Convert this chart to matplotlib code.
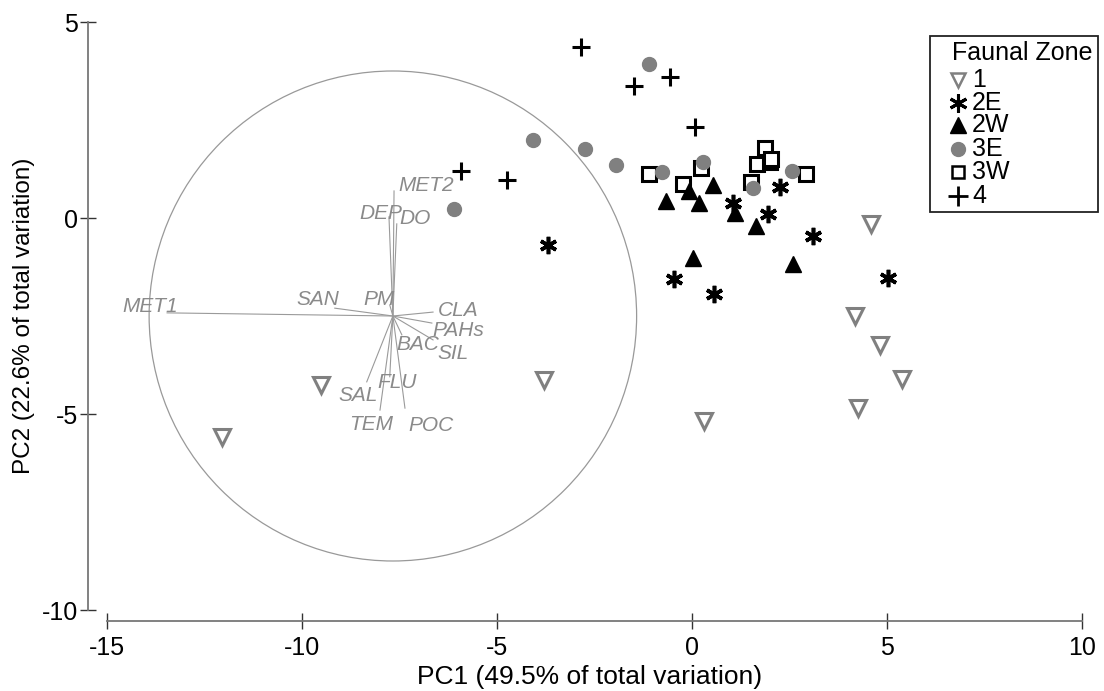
import matplotlib
matplotlib.use("Agg")
import matplotlib.pyplot as plt
import matplotlib.transforms as mtransforms
from matplotlib.patches import Circle, Rectangle
from matplotlib.lines import Line2D

plt.rcParams['font.family'] = ['Liberation Sans', 'DejaVu Sans']
plt.rcParams['axes.unicode_minus'] = False

# PCA scores per faunal zone
zone_1_x = [-12.05, -9.51, -3.79, 0.31, 4.59, 4.18, 4.82, 5.38, 4.26]
zone_1_y = [-5.59, -4.26, -4.13, -5.18, -0.15, -2.50, -3.24, -4.11, -4.85]

zone_2e_x = [-3.69, -0.46, 0.56, 1.05, 2.26, 1.95, 3.10, 5.03]
zone_2e_y = [-0.69, -1.55, -1.93, 0.38, 0.79, 0.10, -0.46, -1.53]

zone_2w_x = [-0.67, -0.08, 0.18, 0.54, 1.10, 1.64, 0.03, 2.59]
zone_2w_y = [0.43, 0.69, 0.38, 0.84, 0.13, -0.20, -1.02, -1.17]

zone_3e_x = [-1.10, -4.08, -2.74, -1.95, -0.77, 0.28, 1.56, 2.56, -6.10]
zone_3e_y = [3.93, 1.99, 1.76, 1.35, 1.17, 1.43, 0.77, 1.20, 0.23]

zone_3w_x = [-1.10, -0.23, 0.23, 1.87, 1.67, 2.00, 2.03, 1.51, 2.92]
zone_3w_y = [1.12, 0.87, 1.27, 1.79, 1.38, 1.43, 1.50, 0.92, 1.12]

zone_4_x = [-2.85, -1.49, -0.56, 0.08, -5.92, -4.74]
zone_4_y = [4.36, 3.37, 3.60, 2.32, 1.20, 0.97]

# environmental vectors (biplot), origin and loadings
vec_origin = (-7.67, -2.50)
vec_names = ['MET1', 'MET2', 'DEP', 'DO', 'SAN', 'PM', 'CLA', 'PAHs',
             'SIL', 'BAC', 'FLU', 'SAL', 'TEM', 'POC']
vec_dx = [-5.79, 0.03, -0.10, 0.10, -1.49, -0.08, 1.03, 1.00,
          1.03, 0.23, -0.08, -0.67, -0.33, 0.31]
vec_dy = [0.08, 3.19, 2.53, 2.35, 0.20, 0.28, 0.10, -0.18,
          -0.61, -0.48, -1.55, -1.68, -2.40, -2.35]
circle_radius = 6.25

# label placement relative to vector tips (pixels)
label_pos = {
    'MET1': (11, 6, 'right'), 'MET2': (4, 5, 'left'), 'DEP': (-8, 3, 'center'),
    'DO': (3, 5, 'left'), 'SAN': (5, 9, 'right'), 'PM': (5, 6, 'right'),
    'CLA': (5, 2, 'left'), 'PAHs': (0, -7, 'left'), 'SIL': (4, -14, 'left'),
    'BAC': (-5, -10, 'left'), 'FLU': (-12, -6, 'left'), 'SAL': (11, -14, 'right'),
    'TEM': (-9, -14, 'center'), 'POC': (3, -17, 'left'),
}

W, H = 1104, 691
XS, YS = 39.0, 39.2          # pixels per data unit
X0, Y0 = 692, 218            # pixel position of data origin (from top)
xlim = (-15.49, 10.6)
ylim = (-10.28, 5.2)

fig = plt.figure(figsize=(W / 100, H / 100), dpi=100)
left_px = X0 + XS * xlim[0]
bottom_px = H - (Y0 - YS * ylim[0])
ax = fig.add_axes([left_px / W, bottom_px / H,
                   XS * (xlim[1] - xlim[0]) / W, YS * (ylim[1] - ylim[0]) / H])
ax.set_xlim(*xlim)
ax.set_ylim(*ylim)

vgray = '#8a8a8a'
ax.add_patch(Circle(vec_origin, circle_radius, fill=False, ec='#999999', lw=0.9))
for name, dx, dy in zip(vec_names, vec_dx, vec_dy):
    tx, ty = vec_origin[0] + dx, vec_origin[1] + dy
    ax.plot([vec_origin[0], tx], [vec_origin[1], ty], color='#9a9a9a', lw=0.8)
    ox, oy, ha = label_pos[name]
    ax.annotate(name, (tx, ty), xytext=(ox, oy), textcoords='offset pixels',
                ha=ha, va='center', fontsize=15, style='italic', color=vgray)

gray = '#808080'
ax.plot(zone_1_x, zone_1_y, 'v', ms=11, mfc='white', mec=gray, mew=2.2, ls='none')
ax.plot(zone_3w_x, zone_3w_y, 's', ms=10.5, mfc='white', mec='black', mew=2.2, ls='none')
ax.plot(zone_2w_x, zone_2w_y, '^', ms=12, color='black', ls='none')
ax.plot(zone_2e_x, zone_2e_y, marker=(6, 2, 0), ms=12.5, mec='black', mew=2.6, ls='none')
ax.plot(zone_3e_x, zone_3e_y, 'o', ms=10, color=gray, ls='none')
ax.plot(zone_4_x, zone_4_y, '+', ms=13, mec='black', mew=2.2, ls='none')

# axes styling: detached spines
for s in ['top', 'right']:
    ax.spines[s].set_visible(False)
ax.spines['left'].set_bounds(-10, 5)
ax.spines['bottom'].set_bounds(-15, 10)
for s in ['left', 'bottom']:
    ax.spines[s].set_color('#777777')
    ax.spines[s].set_linewidth(1.3)
ax.set_xticks([-15, -10, -5, 0, 5, 10])
ax.set_yticks([-10, -5, 0, 5])
ax.tick_params(direction='inout', length=12, width=1.0, color='#333333',
               labelsize=18)
ax.tick_params(axis='x', pad=5)
ax.tick_params(axis='y', pad=1)

px = mtransforms.Affine2D().scale(1, -1).translate(0, H)
fig.text(590, 677, 'PC1 (49.5% of total variation)', transform=px,
         ha='center', va='center', fontsize=19)
fig.text(24, 316, 'PC2 (22.6% of total variation)', transform=px,
         ha='center', va='center', rotation=90, fontsize=17.5)

# legend drawn by hand to keep the tight spacing
fig.add_artist(Rectangle((930, 36), 168, 176, transform=px, fill=False,
                         ec='#222222', lw=1.3))
fig.text(952, 53, 'Faunal Zone', transform=px, ha='left', va='center', fontsize=18)
leg_labels = ['1', '2E', '2W', '3E', '3W', '4']
leg_y = [80, 103, 125, 149, 172, 196]
leg_styles = [
    dict(marker='v', ms=10, mfc='white', mec=gray, mew=1.8),
    dict(marker=(6, 2, 0), ms=13, mec='black', mew=2.2),
    dict(marker='^', ms=12, mfc='black', mec='black'),
    dict(marker='o', ms=10, mfc=gray, mec=gray),
    dict(marker='s', ms=9, mfc='white', mec='black', mew=1.8),
    dict(marker='+', ms=14, mec='black', mew=2.0),
]
for lab, yy, st in zip(leg_labels, leg_y, leg_styles):
    fig.add_artist(Line2D([958], [yy], transform=px, ls='none', **st))
    fig.text(972, yy, lab, transform=px, ha='left', va='center', fontsize=18)

fig.savefig('out.png', dpi=100)
